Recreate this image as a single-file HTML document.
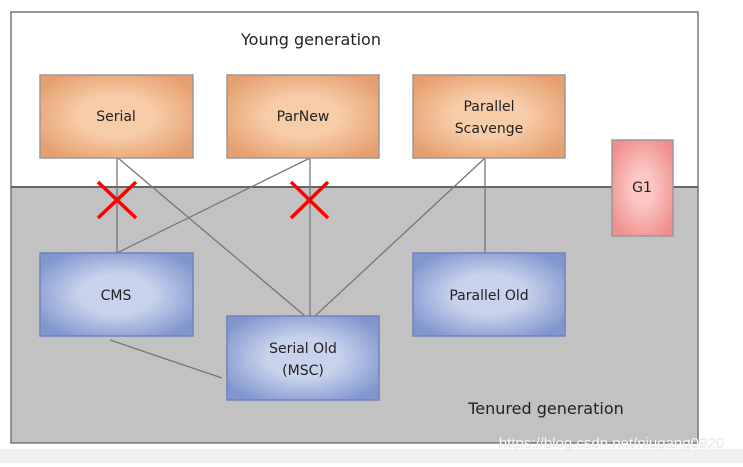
<!DOCTYPE html>
<html><head><style>
body{margin:0;width:743px;height:463px;background:#fff;overflow:hidden;font-family:"Comic Sans MS","DejaVu Sans",sans-serif;}
</style></head><body>
<svg width="743" height="463" xmlns="http://www.w3.org/2000/svg">
<defs>
<radialGradient id="o" cx="50%" cy="50%" r="60%"><stop offset="0.4" stop-color="#f7cca8"/><stop offset="1" stop-color="#e6a070"/></radialGradient>
<radialGradient id="b" cx="50%" cy="50%" r="60%"><stop offset="0.4" stop-color="#c8d2ec"/><stop offset="1" stop-color="#8196cf"/></radialGradient>
<radialGradient id="r" cx="50%" cy="50%" r="60%"><stop offset="0.3" stop-color="#fbc6c4"/><stop offset="1" stop-color="#ef8f8c"/></radialGradient>
</defs>
<rect x="0" y="449" width="743" height="14" fill="#f1f1f1"/>
<rect x="11" y="12" width="687" height="175" fill="#fff"/>
<rect x="11" y="187" width="687" height="256" fill="#c2c2c2"/>
<rect x="11" y="12" width="687" height="431" fill="none" stroke="#777" stroke-width="1.5"/>
<line x1="11" y1="187" x2="698" y2="187" stroke="#666" stroke-width="2"/>
<g stroke="#777" stroke-width="1.3">
<line x1="117" y1="158" x2="117" y2="253"/>
<line x1="118" y1="158" x2="305" y2="316"/>
<line x1="310" y1="158" x2="117" y2="253"/>
<line x1="310" y1="158" x2="310" y2="316"/>
<line x1="485" y1="158" x2="315" y2="316"/>
<line x1="485" y1="158" x2="485" y2="253"/>
<line x1="110" y1="340" x2="222" y2="378"/>
</g>
<g stroke="#999" stroke-width="1.5">
<rect x="40" y="75" width="153" height="83" fill="url(#o)"/>
<rect x="227" y="75" width="152" height="83" fill="url(#o)"/>
<rect x="413" y="75" width="152" height="83" fill="url(#o)"/>
<rect x="612" y="140" width="61" height="96" fill="url(#r)"/>
<rect x="40" y="253" width="153" height="83" fill="url(#b)" stroke="#7082bb"/>
<rect x="227" y="316" width="152" height="84" fill="url(#b)" stroke="#7082bb"/>
<rect x="413" y="253" width="152" height="83" fill="url(#b)" stroke="#7082bb"/>
</g>
<g font-size="14" fill="#222" text-anchor="middle">
<text x="311" y="45" font-size="16">Young generation</text>
<text x="116" y="121">Serial</text>
<text x="303" y="121">ParNew</text>
<text x="489" y="111">Parallel</text>
<text x="489" y="133">Scavenge</text>
<text x="642" y="192">G1</text>
<text x="116" y="300">CMS</text>
<text x="489" y="300">Parallel Old</text>
<text x="303" y="353">Serial Old</text>
<text x="303" y="375">(MSC)</text>
<text x="546" y="414" font-size="16">Tenured generation</text>
</g>
<g stroke="#f00" stroke-width="3.5">
<line x1="98" y1="182" x2="136" y2="218"/><line x1="136" y1="182" x2="98" y2="218"/>
<line x1="291" y1="182" x2="328" y2="218"/><line x1="328" y1="182" x2="291" y2="218"/>
</g>
<text x="724" y="448" text-anchor="end" font-family="Liberation Sans,sans-serif" font-size="15" fill="#fff" stroke="#ccc" stroke-width="0.3">https://blog.csdn.net/niugang0920</text>
</svg>
</body></html>
